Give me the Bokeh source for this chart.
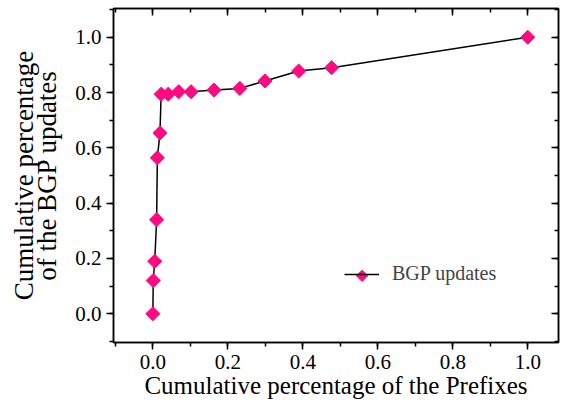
import math
from bokeh.plotting import figure
from bokeh.models import (LinearAxis, Legend, LegendItem, Range1d, SingleIntervalTicker,
                          FixedTicker, PrintfTickFormatter)
from bokeh.embed import file_html
from bokeh.resources import INLINE

prefix_share = [0.0, 0.001, 0.005, 0.010, 0.012, 0.019, 0.022, 0.041, 0.069, 0.102,
                0.163, 0.232, 0.299, 0.389, 0.477, 1.0]
update_share = [0.0, 0.12, 0.19, 0.34, 0.564, 0.654, 0.794, 0.794, 0.803, 0.803,
                0.809, 0.815, 0.842, 0.878, 0.89, 1.0]
series_name = "BGP updates"
x_title = "Cumulative percentage of the Prefixes"
y_title_lines = ["Cumulative percentage", "of the BGP updates"]

FONT = "Liberation Serif"
PINK = "#FF0A80"

p = figure(width=560, height=401, output_backend="svg", toolbar_location=None,
           x_range=Range1d(-0.105, 1.082), y_range=Range1d(-0.104, 1.104),
           x_axis_location=None, y_axis_location=None,
           min_border_left=113, min_border_right=2, min_border_top=8, min_border_bottom=57)
p.background_fill_color = "white"
p.border_fill_color = "white"
p.grid.visible = False
p.outline_line_color = "black"
p.outline_line_width = 1.5

line = p.line(prefix_share, update_share, line_color="black", line_width=1.5)
pts = p.scatter(prefix_share, update_share, marker="square", angle=math.pi / 4,
                size=10, fill_color=PINK, line_color=PINK)


def make_axis(labelled, inward):
    return LinearAxis(
        ticker=SingleIntervalTicker(interval=0.2, num_minor_ticks=2),
        formatter=PrintfTickFormatter(format="%.1f"),
        major_label_text_font=FONT,
        major_label_text_font_size="21px" if labelled else "0px",
        major_label_text_font_style="normal",
        major_label_text_color="black",
        major_label_text_alpha=1 if labelled else 0,
        major_label_standoff=5 if labelled else 0,
        axis_label_text_font=FONT,
        axis_label_text_font_style="normal",
        axis_label_text_color="black",
        axis_line_width=1.5, major_tick_line_width=1.5, minor_tick_line_width=1.5,
        major_tick_in=7 if inward else 0, major_tick_out=0 if inward else 7,
        minor_tick_in=4 if inward else 0, minor_tick_out=0 if inward else 4,
    )


xax = make_axis(True, False)
xax.axis_label = x_title
xax.axis_label_text_font_size = "25px"
xax.axis_label_standoff = 0
yax = make_axis(True, False)
yax.axis_label = y_title_lines[1]
yax.axis_label_text_font_size = "27px"
yax.axis_label_standoff = 10
# outer label-only axis carrying the first line of the y title
yax_outer = LinearAxis(ticker=FixedTicker(ticks=[]), axis_line_color=None,
                       major_tick_line_color=None, minor_tick_line_color=None,
                       major_tick_out=0, major_tick_in=0, minor_tick_out=0, minor_tick_in=0,
                       major_label_text_font_size="0px", major_label_standoff=0,
                       axis_label=y_title_lines[0], axis_label_text_font=FONT,
                       axis_label_text_font_size="27px", axis_label_text_font_style="normal",
                       axis_label_text_color="black", axis_label_standoff=-9)
p.add_layout(xax, "below")
p.add_layout(yax, "left")
p.add_layout(yax_outer, "left")
p.add_layout(make_axis(False, True), "above")
p.add_layout(make_axis(False, True), "right")

legend = Legend(items=[LegendItem(label=series_name, renderers=[line])],
                location=(231, 57), border_line_color=None, background_fill_alpha=0,
                label_text_font=FONT, label_text_font_size="20px",
                glyph_width=35, glyph_height=20, padding=0, margin=0, label_standoff=13)
p.add_layout(legend, "center")
# legend key marker (decoration) centred on the legend's line swatch
p.scatter([0.558], [0.137], marker="square", angle=math.pi / 4, size=8,
          fill_color=PINK, line_color=PINK)

open("out.html", "w").write(file_html(p, INLINE))
